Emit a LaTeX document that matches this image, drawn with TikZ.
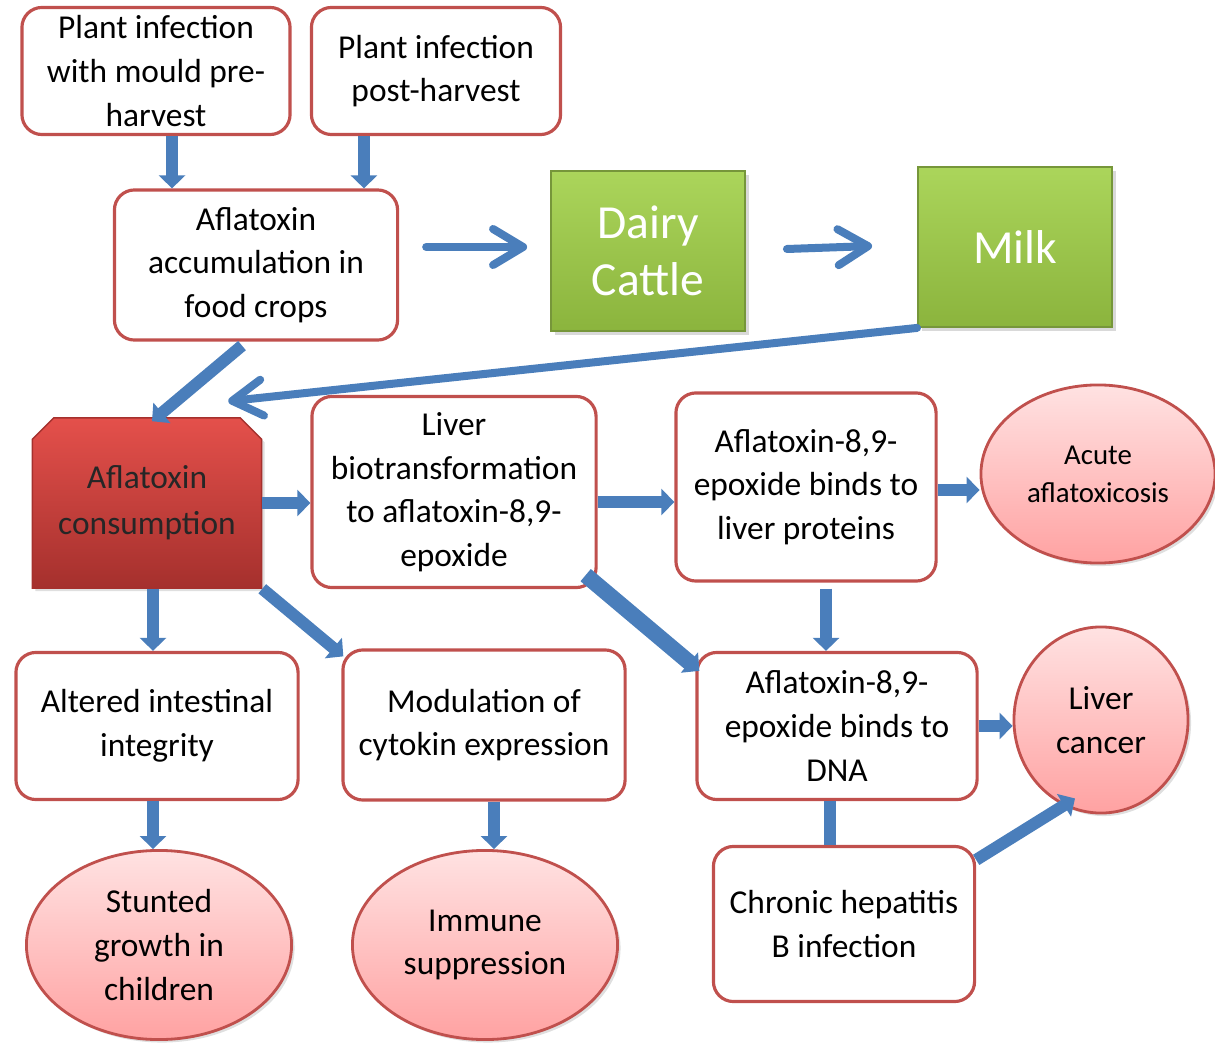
\documentclass[tikz,border=0pt]{standalone}
\usepackage{fontspec}
\setmainfont{Carlito}
\usetikzlibrary{arrows.meta,calc,shapes.geometric,shapes.misc,shadows}

\definecolor{boxedge}{HTML}{C0504D}
\definecolor{arrowblue}{HTML}{4A7EBB}
\definecolor{greentop}{HTML}{ABD55B}
\definecolor{greenbot}{HTML}{8BB43D}
\definecolor{greenedge}{HTML}{76963A}
\definecolor{pinktop}{HTML}{FFE2E2}
\definecolor{pinkbot}{HTML}{FFA2A2}
\definecolor{redtop}{HTML}{E4504B}
\definecolor{redbot}{HTML}{A5302D}

\tikzset{
    stepbox/.style={draw=boxedge, line width=0.9pt, rounded corners=0.2cm, fill=white,
        align=center, inner sep=0pt, font=\fontsize{9.5}{12.4}\selectfont},
    outcome/.style={ellipse, draw=boxedge, line width=0.8pt, top color=pinktop, bottom color=pinkbot,
        align=center, inner sep=0pt, font=\fontsize{9.5}{12.4}\selectfont,
        drop shadow={opacity=0.25, shadow xshift=0.03cm, shadow yshift=-0.03cm}},
    greenbox/.style={draw=greenedge, line width=0.5pt, top color=greentop, bottom color=greenbot,
        text=white, align=center, inner sep=0pt, font=\fontsize{13.5}{16.2}\selectfont,
        minimum width=1.94cm, minimum height=1.6cm,
        drop shadow={opacity=0.3, shadow xshift=0.04cm, shadow yshift=-0.04cm}},
    blockarr/.style={line width=0.12cm, draw=arrowblue, -{Triangle[length=0.13cm, width=0.26cm]}},
    blockbar/.style={line width=0.12cm, draw=arrowblue},
    linearr/.style={line width=0.08cm, draw=arrowblue, line cap=round,
        -{Straight Barb[length=0.3cm, width=0.36cm, round]}},
}

\begin{document}
\begin{tikzpicture}[x=0.01cm, y=-0.01cm]
    \useasboundingbox (0,0) rectangle (1215,1043);

    % Sources of contamination
    \node[stepbox, minimum width=2.68cm, minimum height=1.27cm] (pre) at (156,71) {Plant infection\\with mould pre-\\harvest};
    \node[stepbox, minimum width=2.49cm, minimum height=1.27cm] (post) at (436,71) {Plant infection\\post-harvest};
    \node[stepbox, minimum width=2.83cm, minimum height=1.50cm] (accum) at (256,265) {Aflatoxin\\accumulation in\\food crops};

    % Dairy route
    \node[greenbox] (dairy) at (648,251) {Dairy\\Cattle};
    \node[greenbox] (milk) at (1015,247) {Milk};

    % Consumption and its effects
    \node[chamfered rectangle, chamfered rectangle corners={north west,north east},
        chamfered rectangle xsep=0.1cm, draw=redbot, top color=redtop, bottom color=redbot,
        minimum width=2.29cm, minimum height=1.70cm, inner sep=0pt, align=center,
        font=\fontsize{9.5}{13}\selectfont, text=black!85,
        drop shadow={opacity=0.25, shadow xshift=0.03cm, shadow yshift=-0.03cm}] (cons) at (147,503) {Aflatoxin\\consumption};
    \node[stepbox, minimum width=2.84cm, minimum height=1.91cm] (liver) at (454,492) {Liver\\biotransformation\\to aflatoxin-8,9-\\epoxide};
    \node[stepbox, minimum width=2.60cm, minimum height=1.88cm] (proteins) at (806,487) {Aflatoxin-8,9-\\epoxide binds to\\liver proteins};
    \node[outcome, minimum width=2.34cm, minimum height=1.78cm, font=\fontsize{8.2}{10.8}\selectfont] (acute) at (1098,474) {Acute\\aflatoxicosis};

    \node[stepbox, minimum width=2.82cm, minimum height=1.47cm] (intestinal) at (157,726) {Altered intestinal\\integrity};
    \node[stepbox, minimum width=2.82cm, minimum height=1.50cm] (cytokin) at (484,725) {Modulation of\\cytokin expression};
    \node[stepbox, minimum width=2.80cm, minimum height=1.47cm] (dna) at (837,726) {Aflatoxin-8,9-\\epoxide binds to\\DNA};
    \node[outcome, minimum width=1.74cm, minimum height=1.86cm] (cancer) at (1101,720) {Liver\\cancer};

    \node[outcome, minimum width=2.65cm, minimum height=1.89cm] (stunted) at (159,945) {Stunted\\growth in\\children};
    \node[outcome, minimum width=2.65cm, minimum height=1.89cm] (immune) at (485,945) {Immune\\suppression};
    \node[stepbox, minimum width=2.61cm, minimum height=1.55cm] (hepatitis) at (844,924) {Chronic hepatitis\\B infection};

    % Block arrows
    \draw[blockarr] ([xshift=0.16cm]pre.south) -- ([xshift=0.16cm]pre.south |- accum.north);
    \draw[blockarr] ([xshift=-0.72cm]post.south) -- ([xshift=-0.72cm]post.south |- accum.north);
    \draw[blockarr] ($(accum.south)+(-14,4)$) -- ($(cons.north)+(5,4)$);
    \draw[blockarr] (cons.east) -- (cons.east -| liver.west);
    \draw[blockarr] ([yshift=-0.1cm]liver.east) -- ([yshift=-0.1cm]liver.east -| proteins.west);
    \draw[blockarr] ([yshift=-0.03cm]proteins.east) -- ([yshift=-0.03cm]proteins.east -| acute.west);
    \draw[blockarr] ([xshift=0.06cm]cons.south) -- ([xshift=0.06cm]cons.south |- intestinal.north);
    \draw[blockarr] (cons.south east) -- ($(cytokin.north west)+(2,8)$);
    \draw[blockarr, line width=0.16cm] ($(liver.south east)+(-12,-14)$) -- ($(dna.north west)+(4,20)$);
    \draw[blockarr] ([xshift=0.2cm, yshift=-0.06cm]proteins.south) -- ([xshift=0.2cm]proteins.south |- dna.north);
    \draw[blockarr] (dna.east) -- (dna.east -| cancer.west);
    \draw[blockarr] ([xshift=-0.04cm]intestinal.south) -- ([xshift=-0.04cm]intestinal.south |- stunted.north);
    \draw[blockarr] ([xshift=0.1cm]cytokin.south) -- ([xshift=0.1cm]cytokin.south |- immune.north);
    \draw[blockbar] ([xshift=-0.07cm]dna.south) -- ([xshift=-0.07cm]dna.south |- hepatitis.north);
    \draw[blockarr] ($(hepatitis.north east)+(0,15)$) -- ($(cancer.south)+(-26,-16)$);

    % Line arrows
    \draw[linearr] ($(accum.east)+(27,-18)$) -- ($(dairy.west)+(-23,-4)$);
    \draw[linearr] ($(dairy.east)+(41,-2)$) -- ($(milk.west)+(-45,-1)$);
    \draw[linearr] (milk.south west) -- ($(cons.north -| cons.east)+(-34,-16)$);

\end{tikzpicture}
\end{document}
